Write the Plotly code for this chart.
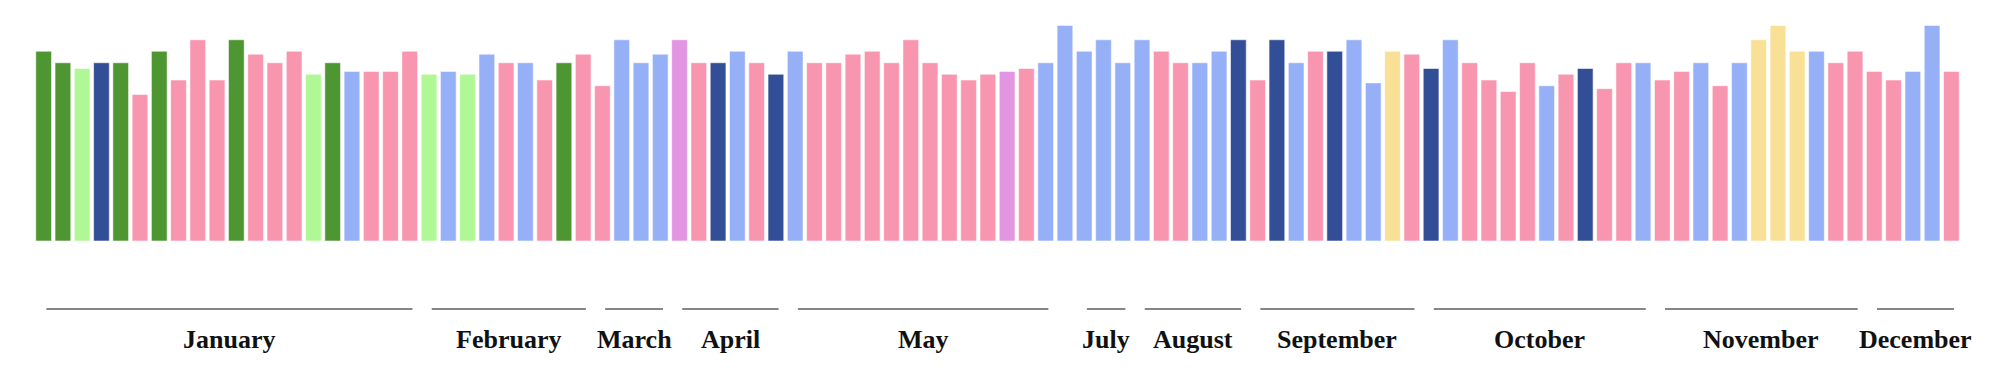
import plotly.graph_objects as go

# ---- data ----
values = [66, 62, 60, 62, 62, 51, 66, 56, 70, 56,
          70, 65, 62, 66, 58, 62, 59, 59, 59, 66,
          58, 59, 58, 65, 62, 62, 56, 62, 65, 54,
          70, 62, 65, 70, 62, 62, 66, 62, 58, 66,
          62, 62, 65, 66, 62, 70, 62, 58, 56, 58,
          59, 60, 62, 75, 66, 70, 62, 70, 66, 62,
          62, 66, 70, 56, 70, 62, 66, 66, 70, 55,
          66, 65, 60, 70, 62, 56, 52, 62, 54, 58,
          60, 53, 62, 62, 56, 59, 62, 54, 62, 70,
          75, 66, 66, 62, 66, 59, 56, 59, 75, 59]

categories = ["DG", "DG", "LG", "DB", "DG", "PK", "DG", "PK", "PK", "PK",
              "DG", "PK", "PK", "PK", "LG", "DG", "LB", "PK", "PK", "PK",
              "LG", "LB", "LG", "LB", "PK", "LB", "PK", "DG", "PK", "PK",
              "LB", "LB", "LB", "PU", "PK", "DB", "LB", "PK", "DB", "LB",
              "PK", "PK", "PK", "PK", "PK", "PK", "PK", "PK", "PK", "PK",
              "PU", "PK", "LB", "LB", "LB", "LB", "LB", "LB", "PK", "PK",
              "LB", "LB", "DB", "PK", "DB", "LB", "PK", "DB", "LB", "LB",
              "YE", "PK", "DB", "LB", "PK", "PK", "PK", "PK", "LB", "PK",
              "DB", "PK", "PK", "LB", "PK", "PK", "LB", "PK", "LB", "YE",
              "YE", "YE", "LB", "PK", "PK", "PK", "PK", "LB", "LB", "PK"]

month_names = ["January", "February", "March", "April", "May", "June",
               "July", "August", "September", "October", "November", "December"]
month_counts = [20, 9, 4, 6, 14, 1, 3, 6, 9, 12, 11, 5]

# ---- styles ----
palette = {
    "DG": "#4e9632",
    "LG": "#b0f896",
    "DB": "#324e96",
    "LB": "#96b0f8",
    "PK": "#f896b0",
    "PU": "#e296e2",
    "YE": "#f8e096",
}
LINE_Y = -23.65
LABEL_Y = -34.2
SHIFT = 0.14

x = list(range(len(values)))
fig = go.Figure()
fig.add_trace(go.Bar(
    x=x, y=values,
    marker=dict(color=[palette[c] for c in categories],
                line=dict(color="rgba(255,255,255,0.55)", width=1)),
    hoverinfo="y",
))

shapes = []
annotations = []
start = 0
for name, cnt in zip(month_names, month_counts):
    end = start + cnt - 1
    if cnt > 1:
        shapes.append(dict(type="line", xref="x", yref="y",
                           x0=start + SHIFT, x1=end + SHIFT,
                           y0=LINE_Y, y1=LINE_Y,
                           line=dict(color="#868686", width=2)))
        annotations.append(dict(x=(start + end) / 2 + SHIFT, y=LABEL_Y,
                                xref="x", yref="y", text=name, showarrow=False,
                                xanchor="center", yanchor="middle",
                                font=dict(family="Liberation Serif", size=26,
                                          color="#111111", weight="bold")))
    start = end + 1

fig.update_layout(
    width=1998, height=372,
    margin=dict(l=26, r=45, t=3, b=8),
    paper_bgcolor="white", plot_bgcolor="white",
    bargap=0.185,
    showlegend=False,
    xaxis=dict(range=[-0.5, 99.5], visible=False, fixedrange=True),
    yaxis=dict(range=[-45.565, 80], visible=False, fixedrange=True),
    shapes=shapes,
    annotations=annotations,
)

fig.write_html("out.html")
